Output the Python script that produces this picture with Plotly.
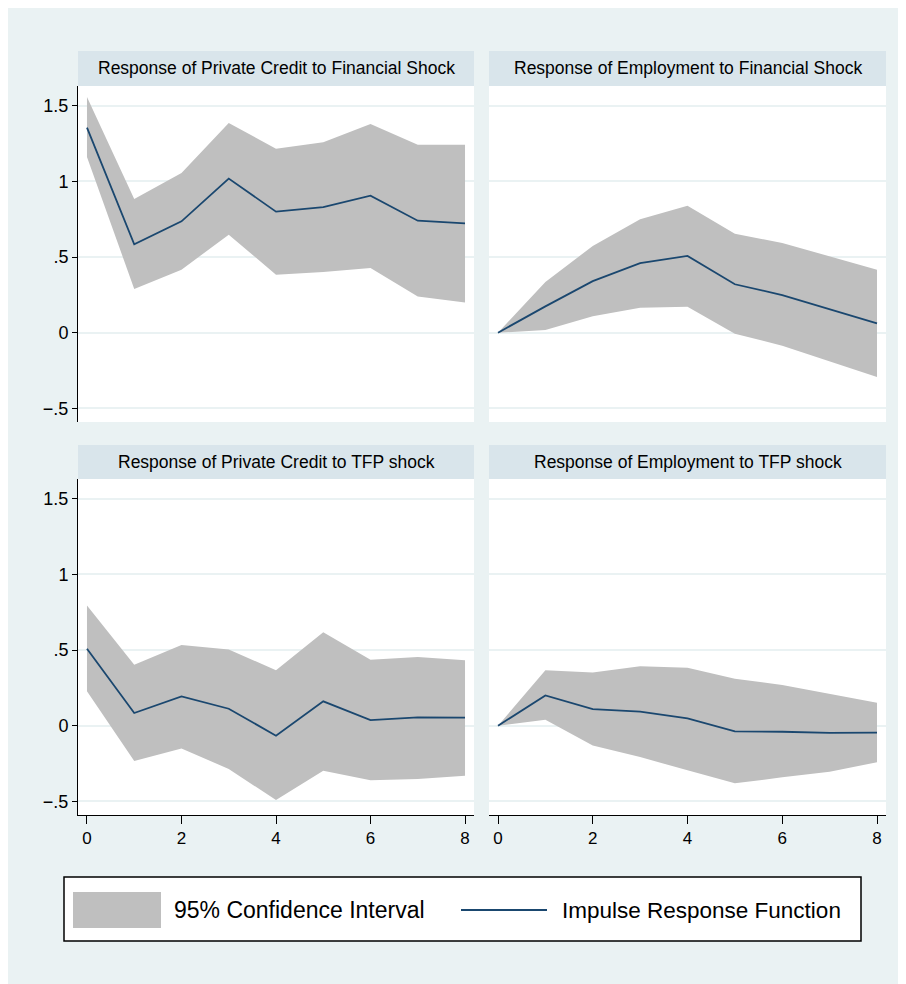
import plotly.graph_objects as go

# horizontes (passos após o choque)
passos = [0, 1, 2, 3, 4, 5, 6, 7, 8]

titulos = [
    "Response of Private Credit to Financial Shock",
    "Response of Employment to Financial Shock",
    "Response of Private Credit to TFP shock",
    "Response of Employment to TFP shock",
]

# Private Credit <- Financial Shock
irf_credito_fin = [1.355, 0.584, 0.736, 1.018, 0.800, 0.830, 0.905, 0.740, 0.722]
sup_credito_fin = [1.557, 0.883, 1.055, 1.385, 1.216, 1.258, 1.379, 1.242, 1.242]
inf_credito_fin = [1.161, 0.289, 0.416, 0.648, 0.383, 0.401, 0.427, 0.240, 0.200]

# Employment <- Financial Shock
irf_emprego_fin = [0.0, 0.174, 0.341, 0.460, 0.507, 0.320, 0.249, 0.156, 0.062]
sup_emprego_fin = [0.0, 0.335, 0.573, 0.749, 0.839, 0.654, 0.593, 0.504, 0.416]
inf_emprego_fin = [0.0, 0.018, 0.108, 0.165, 0.172, -0.007, -0.086, -0.190, -0.293]

# Private Credit <- TFP shock
irf_credito_tfp = [0.509, 0.084, 0.194, 0.112, -0.066, 0.161, 0.037, 0.055, 0.053]
sup_credito_tfp = [0.795, 0.403, 0.533, 0.504, 0.366, 0.617, 0.436, 0.454, 0.432]
inf_credito_tfp = [0.227, -0.233, -0.150, -0.286, -0.491, -0.297, -0.361, -0.352, -0.330]

# Employment <- TFP shock
irf_emprego_tfp = [0.0, 0.200, 0.110, 0.093, 0.048, -0.037, -0.040, -0.048, -0.046]
sup_emprego_tfp = [0.0, 0.366, 0.352, 0.392, 0.383, 0.310, 0.269, 0.209, 0.152]
inf_emprego_tfp = [0.0, 0.040, -0.130, -0.207, -0.295, -0.381, -0.341, -0.304, -0.242]

y_ticks = [-0.5, 0, 0.5, 1, 1.5]
y_tick_text = ["\u2212.5", "0", ".5", "1", "1.5"]
x_ticks = [0, 2, 4, 6, 8]

series = [
    (irf_credito_fin, sup_credito_fin, inf_credito_fin),
    (irf_emprego_fin, sup_emprego_fin, inf_emprego_fin),
    (irf_credito_tfp, sup_credito_tfp, inf_credito_tfp),
    (irf_emprego_tfp, sup_emprego_tfp, inf_emprego_tfp),
]

# a página tem margem de 8px no body -> figura um pouco menor
OFF = 8
W, H = 906 - OFF, 984 - OFF
FONTE = "Liberation Sans, Arial, Helvetica, sans-serif"
FUNDO = "#EAF2F3"
FAIXA = "#D9E5EB"
CINZA = "#BFBFBF"
NAVY = "#1A476F"


def fx(px):
    return (px - OFF) / W


def fy(py):
    return 1 - (py - OFF) / H


# posição dos painéis em pixels da página: (x0, x1) e (y_topo, y_base)
colunas = [(78, 474), (489, 886)]
linhas = [(86, 422), (479, 815)]
faixas = [(51, 86), (445, 479)]

fig = go.Figure()

for i, (irf, sup, inf) in enumerate(series):
    sufixo = "" if i == 0 else str(i + 1)
    xa, ya = "x" + sufixo, "y" + sufixo
    # banda de confiança (polígono superior + inferior invertido)
    fig.add_trace(go.Scatter(
        x=passos + passos[::-1],
        y=sup + inf[::-1],
        fill="toself", fillcolor=CINZA,
        line=dict(width=0), mode="lines",
        hoverinfo="skip", showlegend=False,
        xaxis=xa, yaxis=ya,
    ))
    fig.add_trace(go.Scatter(
        x=passos, y=irf, mode="lines",
        line=dict(color=NAVY, width=1.8),
        showlegend=False, xaxis=xa, yaxis=ya,
    ))

layout = dict(
    width=W, height=H,
    margin=dict(l=0, r=0, t=0, b=0),
    paper_bgcolor=FUNDO,
    plot_bgcolor="white",
    font=dict(family=FONTE, color="black", size=17),
    showlegend=False,
)

for i in range(4):
    lin, col = divmod(i, 2)
    sufixo = "" if i == 0 else str(i + 1)
    x0, x1 = colunas[col]
    y0, y1 = linhas[lin]
    baixo = lin == 1
    esquerda = col == 0
    layout["xaxis" + sufixo] = dict(
        domain=[fx(x0), fx(x1)], anchor="y" + sufixo,
        range=[-0.19, 8.19], tickvals=x_ticks,
        showgrid=False, zeroline=False,
        showticklabels=baixo, ticks="outside" if baixo else "",
        ticklen=8, tickcolor="black",
        showline=baixo, linecolor="black", linewidth=1,
        tickfont=dict(size=17),
    )
    layout["yaxis" + sufixo] = dict(
        domain=[fy(y1), fy(y0)], anchor="x" + sufixo,
        range=[-0.59, 1.63], tickvals=y_ticks, ticktext=y_tick_text,
        showgrid=True, gridcolor=FUNDO, gridwidth=1.5, zeroline=False,
        showticklabels=esquerda, ticks="outside" if esquerda else "",
        ticklen=5, tickcolor="black",
        showline=esquerda, linecolor="black", linewidth=1,
        tickfont=dict(size=18),
    )

shapes = []
annotations = []
for i, titulo in enumerate(titulos):
    lin, col = divmod(i, 2)
    x0, x1 = colunas[col]
    t0, t1 = faixas[lin]
    shapes.append(dict(type="rect", xref="paper", yref="paper",
                       x0=fx(x0), x1=fx(x1), y0=fy(t1), y1=fy(t0),
                       fillcolor=FAIXA, line=dict(width=0), layer="below"))
    annotations.append(dict(text=titulo, xref="paper", yref="paper",
                            x=fx((x0 + x1) / 2), y=fy((t0 + t1) / 2),
                            xanchor="center", yanchor="middle", showarrow=False,
                            font=dict(size=17.5, color="black")))

# legenda desenhada à mão (estilo Stata)
shapes += [
    dict(type="rect", xref="paper", yref="paper", x0=fx(64), x1=fx(861), y0=fy(941), y1=fy(877),
         fillcolor="white", line=dict(color="black", width=1.5)),
    dict(type="rect", xref="paper", yref="paper", x0=fx(73), x1=fx(161), y0=fy(928), y1=fy(892),
         fillcolor=CINZA, line=dict(width=0)),
    dict(type="line", xref="paper", yref="paper", x0=fx(461), x1=fx(547), y0=fy(910), y1=fy(910),
         line=dict(color=NAVY, width=2)),
]
annotations += [
    dict(text="95% Confidence Interval", xref="paper", yref="paper", x=fx(172), y=fy(910),
         xanchor="left", yanchor="middle", showarrow=False, font=dict(size=23)),
    dict(text="Impulse Response Function", xref="paper", yref="paper", x=fx(560), y=fy(910),
         xanchor="left", yanchor="middle", showarrow=False, font=dict(size=22.5)),
]

layout["shapes"] = shapes
layout["annotations"] = annotations
fig.update_layout(**layout)

fig.write_html("out.html")
